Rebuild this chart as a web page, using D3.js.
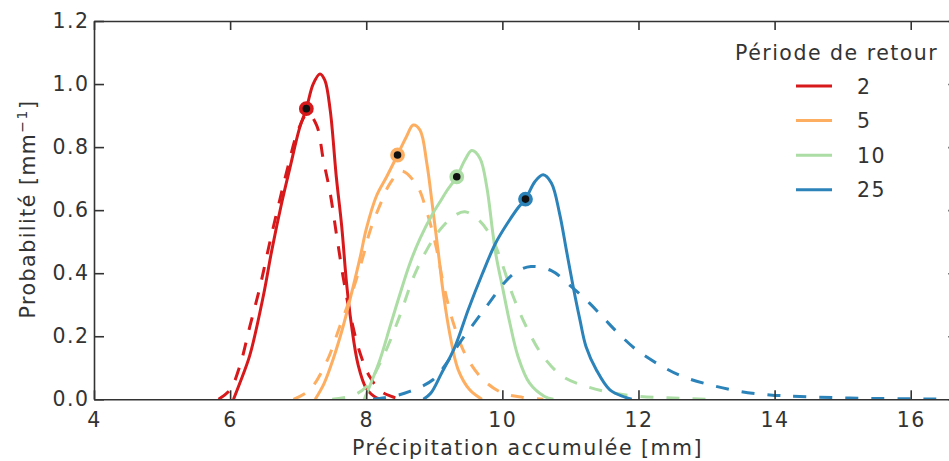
<!DOCTYPE html>
<html>
<head>
<meta charset="utf-8">
<script src="https://cdn.jsdelivr.net/npm/d3@7/dist/d3.min.js"></script>
<style>
  html, body { margin: 0; padding: 0; background: #fff; }
  svg { display: block; }
  text { font-family: "DejaVu Sans", sans-serif; fill: #333; }
</style>
</head>
<body>
<svg id="chart" width="949" height="461"></svg>
<script>
// Return periods (years) and their colours
const periods = ["2", "5", "10", "25"];
const colors = ["#d7191c", "#fdae61", "#abdda4", "#2b83ba"];

// Solid curves: probability density of accumulated precipitation
const solidX2  = [6.05, 6.14, 6.29, 6.49, 6.61, 6.76, 6.88, 7.02, 7.12, 7.22, 7.32, 7.39, 7.47, 7.56, 7.64, 7.71, 7.78, 7.88, 8.0, 8.15, 8.25];
const solidY2  = [0, 0.05, 0.14, 0.33, 0.47, 0.625, 0.735, 0.86, 0.922, 1.0, 1.032, 1.013, 0.918, 0.706, 0.548, 0.37, 0.24, 0.11, 0.035, 0.005, 0];
const solidX5  = [7.25, 7.38, 7.51, 7.66, 7.76, 7.91, 8.0, 8.15, 8.30, 8.46, 8.59, 8.69, 8.79, 8.89, 8.98, 9.06, 9.13, 9.23, 9.35, 9.52, 9.7];
const solidY5  = [0, 0.05, 0.125, 0.231, 0.315, 0.45, 0.54, 0.645, 0.706, 0.775, 0.833, 0.870, 0.854, 0.749, 0.601, 0.464, 0.34, 0.205, 0.094, 0.030, 0];
const solidX10 = [7.97, 8.2, 8.35, 8.49, 8.64, 8.79, 8.98, 9.08, 9.18, 9.33, 9.45, 9.55, 9.67, 9.77, 9.86, 9.91, 10.01, 10.11, 10.23, 10.40, 10.62, 10.75];
const solidY10 = [0, 0.125, 0.231, 0.33, 0.43, 0.51, 0.59, 0.625, 0.66, 0.706, 0.759, 0.789, 0.765, 0.675, 0.527, 0.453, 0.347, 0.242, 0.136, 0.051, 0.009, 0];
const solidX25 = [8.84, 8.95, 9.1, 9.3, 9.5, 9.7, 9.9, 10.08, 10.24, 10.34, 10.48, 10.6, 10.72, 10.84, 10.94, 11.04, 11.14, 11.23, 11.38, 11.58, 11.8, 11.9];
const solidY25 = [0, 0.02, 0.08, 0.165, 0.285, 0.395, 0.495, 0.56, 0.61, 0.635, 0.691, 0.712, 0.686, 0.59, 0.474, 0.358, 0.252, 0.167, 0.094, 0.03, 0.007, 0];

// Dashed curves: fitted distributions
const dashX2  = [5.83, 6.0, 6.14, 6.29, 6.44, 6.58, 6.73, 6.85, 7.0, 7.14, 7.27, 7.37, 7.47, 7.56, 7.66, 7.76, 7.91, 8.05, 8.22, 8.37, 8.5];
const dashY2  = [0, 0.03, 0.104, 0.231, 0.358, 0.495, 0.633, 0.738, 0.854, 0.907, 0.870, 0.759, 0.654, 0.527, 0.389, 0.273, 0.146, 0.072, 0.025, 0.009, 0];
const dashX5  = [6.93, 7.17, 7.42, 7.61, 7.81, 7.95, 8.05, 8.2, 8.35, 8.52, 8.74, 8.89, 9.03, 9.13, 9.28, 9.47, 9.72, 10.0, 10.3, 10.6];
const dashY5  = [0, 0.03, 0.12, 0.23, 0.35, 0.45, 0.53, 0.615, 0.685, 0.724, 0.68, 0.595, 0.48, 0.37, 0.242, 0.136, 0.062, 0.02, 0.006, 0];
const dashX10 = [7.5, 7.8, 8.0, 8.25, 8.49, 8.69, 8.89, 9.08, 9.28, 9.45, 9.67, 9.86, 10.01, 10.16, 10.35, 10.6, 10.89, 11.23, 11.63, 12.02, 12.5, 13.0];
const dashY10 = [0, 0.012, 0.04, 0.136, 0.263, 0.385, 0.474, 0.537, 0.58, 0.595, 0.565, 0.506, 0.421, 0.326, 0.231, 0.136, 0.072, 0.041, 0.02, 0.009, 0.004, 0];
const dashX25 = [8.1, 8.4, 8.64, 8.98, 9.18, 9.37, 9.62, 9.82, 10.03, 10.21, 10.42, 10.72, 11.0, 11.28, 11.5, 11.7, 11.97, 12.31, 12.65, 13.05, 13.49, 13.93, 14.37, 15.1, 16.3, 16.7];
const dashY25 = [0, 0.01, 0.025, 0.062, 0.115, 0.178, 0.252, 0.31, 0.37, 0.405, 0.421, 0.408, 0.36, 0.305, 0.255, 0.21, 0.157, 0.109, 0.072, 0.046, 0.025, 0.014, 0.009, 0.004, 0.001, 0];

// Marked points on the solid curves
const markX = [7.12, 8.46, 9.33, 10.34];
const markY = [0.922, 0.775, 0.706, 0.635];

// Axis ticks
const xTicks = [4, 6, 8, 10, 12, 14, 16];
const yTicks = [0, 0.2, 0.4, 0.6, 0.8, 1.0, 1.2];

const solids = [[solidX2, solidY2], [solidX5, solidY5], [solidX10, solidY10], [solidX25, solidY25]];
const dashes = [[dashX2, dashY2], [dashX5, dashY5], [dashX10, dashY10], [dashX25, dashY25]];

const svg = d3.select("#chart");
const x = d3.scaleLinear().domain([4, 16.7]).range([94, 94 + 12.7 * 68.06]);
const y = d3.scaleLinear().domain([0, 1.2]).range([399.3, 21]);

svg.append("defs").append("clipPath").attr("id", "plot-area")
  .append("rect")
  .attr("x", x(4)).attr("y", y(1.2))
  .attr("width", x(16.7) - x(4)).attr("height", y(0) - y(1.2));

const line = d3.line().x(d => x(d[0])).y(d => y(d[1])).curve(d3.curveCatmullRom.alpha(0.5));
const zip = (xs, ys) => xs.map((v, i) => [v, ys[i]]);

const plot = svg.append("g").attr("clip-path", "url(#plot-area)");
periods.forEach((p, i) => {
  plot.append("path")
    .attr("d", line(zip(solids[i][0], solids[i][1])))
    .attr("fill", "none").attr("stroke", colors[i]).attr("stroke-width", 3)
    .attr("stroke-linejoin", "round");
  plot.append("path")
    .attr("d", line(zip(dashes[i][0], dashes[i][1])))
    .attr("fill", "none").attr("stroke", colors[i]).attr("stroke-width", 3)
    .attr("stroke-dasharray", "13,13");
});

svg.append("g").selectAll("circle").data(markX).enter().append("circle")
  .attr("cx", d => x(d)).attr("cy", (d, i) => y(markY[i]))
  .attr("r", 5.6).attr("fill", "#111")
  .attr("stroke", (d, i) => colors[i]).attr("stroke-width", 3.6);

// Frame and inward ticks
const fontSize = "20.5px";
const axisStyle = g => {
  g.select(".domain").attr("stroke", "#333").attr("stroke-width", 1.6);
  g.selectAll(".tick line").attr("stroke", "#333").attr("stroke-width", 1.6);
  g.selectAll(".tick text").attr("font-size", fontSize).attr("fill", "#333")
    .attr("font-family", "DejaVu Sans").style("letter-spacing", "1.5px");
};

svg.append("g").attr("transform", `translate(0,${y(0)})`)
  .call(d3.axisBottom(x).tickValues(xTicks).tickSize(-9).tickSizeOuter(0).tickPadding(13).tickFormat(d3.format("d")))
  .call(axisStyle);
svg.append("g").attr("transform", `translate(0,${y(1.2)})`)
  .call(d3.axisTop(x).tickValues(xTicks).tickSize(-9).tickSizeOuter(0).tickFormat(""))
  .call(axisStyle);
svg.append("g").attr("transform", `translate(${x(4)},0)`)
  .call(d3.axisLeft(y).tickValues(yTicks).tickSize(-10).tickSizeOuter(0).tickPadding(4.5).tickFormat(d3.format(".1f")))
  .call(axisStyle);
svg.append("g").attr("transform", `translate(${x(16.7)},0)`)
  .call(d3.axisRight(y).tickValues(yTicks).tickSize(-10).tickSizeOuter(0).tickFormat(""))
  .call(axisStyle);

// Axis titles
svg.append("text")
  .attr("x", (352 + 703) / 2).attr("y", 455)
  .attr("text-anchor", "middle").attr("font-size", fontSize)
  .style("letter-spacing", "1.5px")
  .text("Précipitation accumulée [mm]");

const yl = svg.append("text")
  .attr("transform", "translate(35,209) rotate(-90)")
  .attr("text-anchor", "middle").attr("font-size", fontSize)
  .style("letter-spacing", "1.5px");
yl.append("tspan").text("Probabilité [mm");
yl.append("tspan").attr("font-size", "14px").attr("dy", -8).text("−1");
yl.append("tspan").attr("dy", 8).text("]");

// Legend
const legend = svg.append("g");
legend.append("text").attr("x", 735).attr("y", 60)
  .attr("font-size", fontSize).style("letter-spacing", "1.5px")
  .text("Période de retour");
periods.forEach((p, i) => {
  const ly = 86 + i * 34.6;
  legend.append("line").attr("x1", 796).attr("x2", 832).attr("y1", ly).attr("y2", ly)
    .attr("stroke", colors[i]).attr("stroke-width", 3);
  legend.append("text").attr("x", 857).attr("y", ly + 7.5)
    .attr("font-size", fontSize).style("letter-spacing", "1.5px").text(p);
});
</script>
</body>
</html>
